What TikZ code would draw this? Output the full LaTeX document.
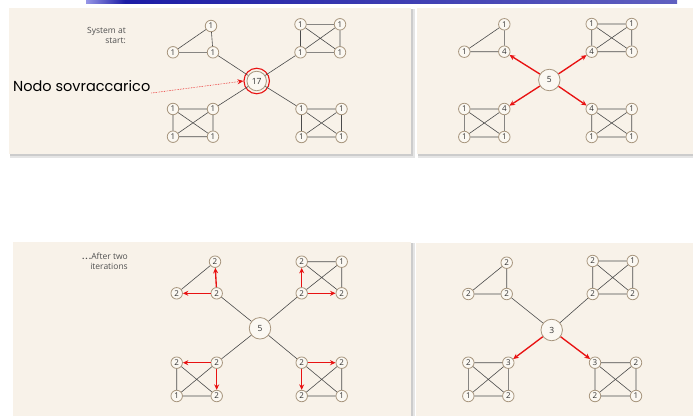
\documentclass[tikz,border=0pt]{standalone}
\usepackage{fontspec}
\setsansfont{Open Sans}
\newfontfamily\handfont{Poppins}
\usetikzlibrary{arrows.meta}
\definecolor{panelbg}{RGB}{248,242,233}
\definecolor{nodebg}{RGB}{251,248,242}
\definecolor{nodeline}{RGB}{168,150,126}
\definecolor{edgecol}{RGB}{75,75,75}
\definecolor{hotred}{RGB}{232,18,18}
\definecolor{barblue}{RGB}{28,28,165}
\definecolor{barlight}{RGB}{150,150,230}
\definecolor{captiongray}{RGB}{80,80,80}

\tikzset{
  panel/.style={fill=panelbg, draw=none},
  vtx/.style={circle, draw=nodeline, fill=nodebg, line width=0.8pt, inner sep=0pt,
    minimum size=11.5pt, font=\sffamily\fontsize{8}{8}\selectfont, text=black!80},
  hub/.style={vtx, minimum size=21.5pt, font=\sffamily\fontsize{8.5}{8.5}\selectfont},
  edge/.style={draw=edgecol, line width=0.6pt},
  push/.style={draw=hotred, line width=1.35pt, -{Stealth[length=5.5pt,width=5pt]}},
  caption/.style={align=right, anchor=north east, inner sep=0pt, text=captiongray,
    font=\sffamily\fontsize{8.5}{10}\selectfont},
}

% panel with a soft drop shadow on its right and bottom sides
\newcommand\shadowpanel[4]{%
  \fill[black!10] (#1+1,#2+1) rectangle (#3+3.5,#4+3.5);
  \fill[black!20] (#1+0.5,#2+0.5) rectangle (#3+1.8,#4+1.8);
  \fill[panel] (#1,#2) rectangle (#3,#4);
}

\begin{document}
\begin{tikzpicture}[x=1pt,y=-1pt]
\useasboundingbox (0,0) rectangle (693,415);
\fill[white] (0,0) rectangle (693,415);

% title bar
\shade[left color=barlight, right color=barblue] (86,0) rectangle (125,3);
\shade[left color=barblue, right color=barblue!70!white] (125,0) rectangle (677,3);

% panels
\shadowpanel{9}{8}{411}{154}
\shadowpanel{417}{8}{697}{154}
\shadowpanel{13}{242}{411}{420}
\shadowpanel{416}{243}{697}{420}

% ---------- system at start ----------
\node[caption] (capA) at (126,27) {System at\\start:};
\node[vtx] (aT1) at (211,26) {1};
\node[vtx] (aT2) at (173,52.3) {1};
\node[vtx] (aT3) at (213,52.3) {1};
\node[vtx] (aA1) at (300.5,24.3) {1};
\node[vtx] (aA2) at (340,24.3) {1};
\node[vtx] (aA3) at (300.5,52.3) {1};
\node[vtx] (aA4) at (340,52.3) {1};
\node[vtx] (aB1) at (173,109) {1};
\node[vtx] (aB2) at (213,109) {1};
\node[vtx] (aB3) at (173,136.7) {1};
\node[vtx] (aB4) at (213,136.7) {1};
\node[vtx] (aC1) at (301.5,109) {1};
\node[vtx] (aC2) at (341.5,109) {1};
\node[vtx] (aC3) at (301.5,137) {1};
\node[vtx] (aC4) at (341.5,137) {1};
\node[hub, minimum size=19.5pt] (aH) at (256.7,81) {17};
\node[circle, draw=hotred, line width=1.1pt, minimum size=25.5pt, inner sep=0pt] (aRing) at (aH) {};
\draw[edge] (aT1)--(aT2) (aT1)--(aT3) (aT2)--(aT3);
\foreach \s in {aA,aB,aC}{
  \draw[edge] (\s1)--(\s2) (\s1)--(\s3) (\s2)--(\s4) (\s3)--(\s4) (\s1)--(\s4) (\s2)--(\s3);
}
\draw[edge] (aH)--(aT3) (aH)--(aA3) (aH)--(aB2) (aH)--(aC1);
\node[anchor=base west, inner sep=0pt, font=\handfont\fontsize{14.5}{14.5}\selectfont] (nodo) at (13,91) {Nodo sovraccarico};
\draw[hotred, densely dotted, line width=0.6pt, -{Stealth[length=6pt,width=5pt]}]
  ([xshift=1pt,yshift=-2pt]nodo.base east) -- (aRing.west);

% ---------- first step ----------
\node[vtx] (bT1) at (504.3,24.3) {1};
\node[vtx] (bT2) at (464.3,51.7) {1};
\node[vtx] (bT3) at (504.3,51.7) {4};
\node[vtx] (bA1) at (591.7,24) {1};
\node[vtx] (bA2) at (631.7,24) {1};
\node[vtx] (bA3) at (591.7,51.7) {4};
\node[vtx] (bA4) at (631.7,51.7) {1};
\node[vtx] (bB1) at (464.3,109) {1};
\node[vtx] (bB2) at (504.3,109) {4};
\node[vtx] (bB3) at (464.3,137) {1};
\node[vtx] (bB4) at (504.3,137) {1};
\node[vtx] (bC1) at (591.7,109) {4};
\node[vtx] (bC2) at (631.7,109) {1};
\node[vtx] (bC3) at (591.7,137) {1};
\node[vtx] (bC4) at (631.7,137) {1};
\node[hub] (bH) at (549.3,80) {5};
\draw[edge] (bT1)--(bT2) (bT1)--(bT3) (bT2)--(bT3);
\foreach \s in {bA,bB,bC}{
  \draw[edge] (\s1)--(\s2) (\s1)--(\s3) (\s2)--(\s4) (\s3)--(\s4) (\s1)--(\s4) (\s2)--(\s3);
}
\draw[push] (bH)--(bT3);
\draw[push] (bH)--(bA3);
\draw[push] (bH)--(bB2);
\draw[push] (bH)--(bC1);

% ---------- after two iterations ----------
\node[caption] (capC) at (128,253) {{\bfseries.\kern1pt.\kern1pt.}After two\\iterations};
\node[vtx] (cT1) at (215,261.7) {2};
\node[vtx] (cT2) at (176.7,293.3) {2};
\node[vtx] (cT3) at (216.7,293.3) {2};
\node[vtx] (cA1) at (301.7,261.7) {2};
\node[vtx] (cA2) at (341.7,261.7) {1};
\node[vtx] (cA3) at (301.7,293.3) {2};
\node[vtx] (cA4) at (341.7,293.3) {2};
\node[vtx] (cB1) at (176.7,362.7) {2};
\node[vtx] (cB2) at (216.7,362.7) {2};
\node[vtx] (cB3) at (176.7,396) {1};
\node[vtx] (cB4) at (216.7,396) {2};
\node[vtx] (cC1) at (301.7,362.7) {2};
\node[vtx] (cC2) at (341.7,362.7) {2};
\node[vtx] (cC3) at (301.7,396) {2};
\node[vtx] (cC4) at (341.7,396) {1};
\node[hub] (cH) at (260,328.3) {5};
\draw[edge] (cT1)--(cT2);
\draw[push] (cT3)--(cT1);
\draw[push] (cT3)--(cT2);
\draw[edge] (cA1)--(cA2) (cA2)--(cA4) (cA1)--(cA4) (cA2)--(cA3);
\draw[push] (cA3)--(cA1);
\draw[push] (cA3)--(cA4);
\draw[edge] (cB1)--(cB3) (cB3)--(cB4) (cB1)--(cB4) (cB2)--(cB3);
\draw[push] (cB2)--(cB1);
\draw[push] (cB2)--(cB4);
\draw[edge] (cC2)--(cC4) (cC3)--(cC4) (cC1)--(cC4) (cC2)--(cC3);
\draw[push] (cC1)--(cC2);
\draw[push] (cC1)--(cC3);
\draw[edge] (cH)--(cT3) (cH)--(cA3) (cH)--(cB2) (cH)--(cC1);

% ---------- final state ----------
\node[vtx] (dT1) at (506.7,262.7) {2};
\node[vtx] (dT2) at (468.3,294) {2};
\node[vtx] (dT3) at (506.7,294) {2};
\node[vtx] (dA1) at (592.7,261) {2};
\node[vtx] (dA2) at (632.7,261) {1};
\node[vtx] (dA3) at (592.7,294) {2};
\node[vtx] (dA4) at (632.7,294) {2};
\node[vtx] (dB1) at (468.3,362.7) {2};
\node[vtx] (dB2) at (508.3,362.7) {3};
\node[vtx] (dB3) at (468.3,396) {1};
\node[vtx] (dB4) at (508.3,396) {2};
\node[vtx] (dC1) at (595,362.7) {3};
\node[vtx] (dC2) at (636,362.7) {2};
\node[vtx] (dC3) at (595,396) {2};
\node[vtx] (dC4) at (636,396) {1};
\node[hub] (dH) at (551.7,330) {3};
\draw[edge] (dT1)--(dT2) (dT1)--(dT3) (dT2)--(dT3);
\foreach \s in {dA,dB,dC}{
  \draw[edge] (\s1)--(\s2) (\s1)--(\s3) (\s2)--(\s4) (\s3)--(\s4) (\s1)--(\s4) (\s2)--(\s3);
}
\draw[edge] (dH)--(dT3) (dH)--(dA3);
\draw[push] (dH)--(dB2);
\draw[push] (dH)--(dC1);
\end{tikzpicture}
\end{document}
